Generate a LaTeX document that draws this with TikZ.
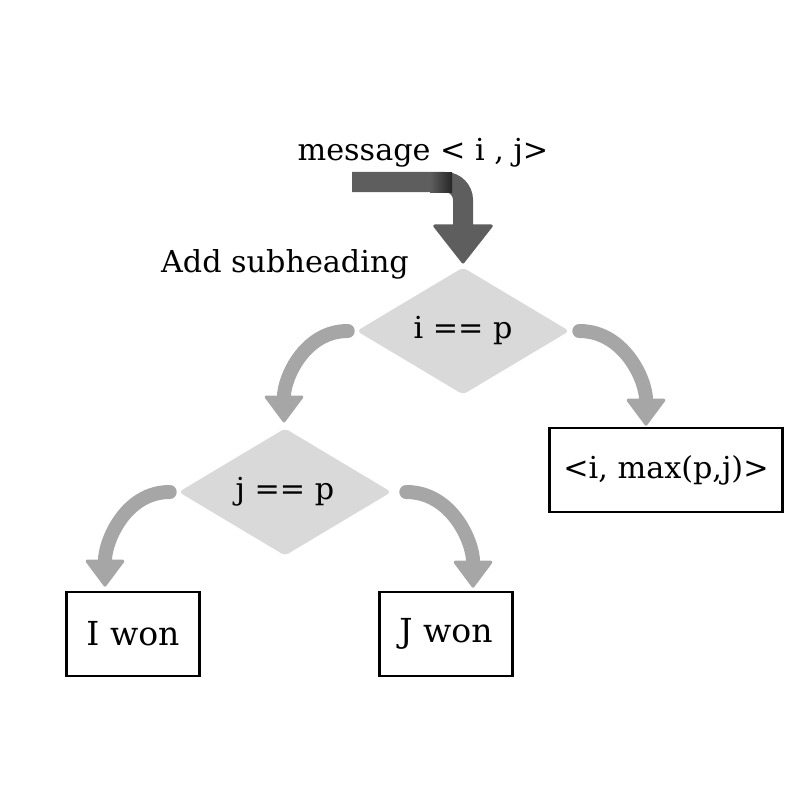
\documentclass[tikz,border=0pt]{standalone}
\usepackage{fontspec}
\setmainfont{DejaVu Serif}
\usetikzlibrary{shapes.geometric,arrows.meta}
\definecolor{flowgray}{HTML}{A6A6A6}
\definecolor{diamgray}{HTML}{D9D9D9}
\definecolor{darkarrow}{HTML}{5E5E5E}
\begin{document}
\begin{tikzpicture}[x=0.01cm,y=-0.01cm,
		every node/.style={font=\fontsize{8.6}{10}\selectfont},
		test/.style={diamond,fill=diamgray,minimum width=2.13cm,minimum height=1.22cm,inner sep=0pt,rounded corners=0.04cm},
		result/.style={draw=black,line width=0.026cm,minimum height=0.84cm,inner sep=0pt},
		branch/.style={draw=flowgray,line width=0.14cm,line cap=round,
			-{Triangle[width=0.41cm,length=0.28cm,line width=0.03cm,round]}}]
		\useasboundingbox (0,0) rectangle (800,800);
		%
		\node (message)  at (423,160) [anchor=base] {message < i , j>};
		\node (subhead)  at (285,272) [anchor=base] {Add subheading};
		\coordinate (msgin) at (352,182);
		%
		\node (ieqp)  at (463,331) [test] {i == p};
		\node (jeqp)  at (285,492) [test] {j == p};
		%
		\node (maxpj)  at (666,470) [result,minimum width=2.33cm] {<i, max(p,j)>};
		\node (iwon)   at (133,634) [result,minimum width=1.33cm,font=\fontsize{9.4}{11}\selectfont] {I won};
		\node (jwon)   at (446,634) [result,minimum width=1.33cm,font=\fontsize{9.4}{11}\selectfont] {J won};
		%
		% incoming message
		\draw[darkarrow,line width=0.20cm,rounded corners=0.18cm,
			-{Triangle[width=0.62cm,length=0.40cm,line width=0.03cm,round]},shorten >=0.03cm]
			(msgin) -| (ieqp.north);
		\shade[left color=darkarrow,right color=black!85] (430,172) rectangle (452,192);
		%
		\draw[branch] ([xshift=-0.08cm]ieqp.west) to[out=180,in=90] ([xshift=-0.01cm,yshift=0.05cm]jeqp.north);
		\draw[branch] ([xshift=0.09cm]ieqp.east) to[out=0,in=90] ([xshift=-0.20cm,yshift=0.01cm]maxpj.north);
		% 2
		\draw[branch] ([xshift=-0.08cm]jeqp.west) to[out=180,in=90] ([xshift=-0.28cm,yshift=0.04cm]iwon.north);
		\draw[branch] ([xshift=0.14cm]jeqp.east) to[out=0,in=90] ([xshift=0.27cm,yshift=0.03cm]jwon.north);
	\end{tikzpicture}
\end{document}
